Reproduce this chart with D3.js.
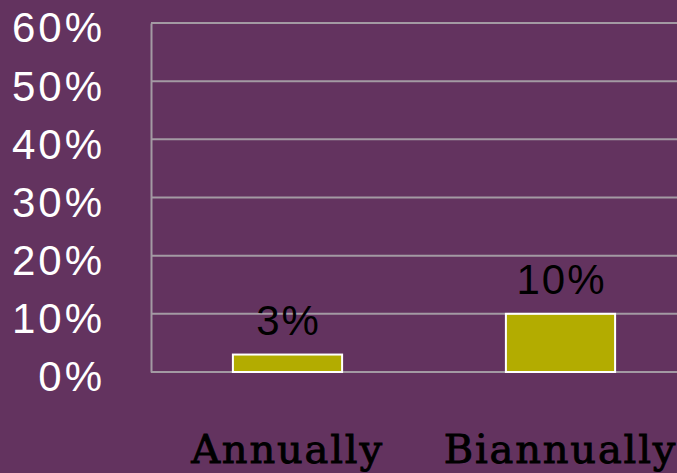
<!DOCTYPE html>
<html>
<head>
<meta charset="utf-8">
<style>
  html, body { margin: 0; padding: 0; background: #63335f; overflow: hidden; }
</style>
</head>
<body>
<svg id="chart" width="677" height="473"></svg>
<script src="https://d3js.org/d3.v7.min.js"></script>
<script>

var categories = ["Annually", "Biannually"]
var values = [3, 10]
var yTicks = [0, 10, 20, 30, 40, 50, 60]

var svg = d3.select("#chart"),
    plotLeft = 151, plotRight = 697, plotTop = 23, plotBottom = 372;

svg.append("rect")
    .attr("width", 677)
    .attr("height", 473)
    .attr("fill", "#63335f");

var x = d3.scaleBand()
    .domain(categories)
    .range([plotLeft, plotRight])
    .paddingInner(0.6)
    .paddingOuter(0.3);

var y = d3.scaleLinear()
    .domain([0, 60])
    .range([plotBottom, plotTop]);

// gridlines
svg.append("g")
    .selectAll("line")
    .data(yTicks)
    .enter().append("line")
    .attr("x1", plotLeft)
    .attr("x2", 677)
    .attr("y1", d => y(d))
    .attr("y2", d => y(d))
    .attr("stroke", "#a39aa3")
    .attr("stroke-width", 2);

// y axis
var yAxis = svg.append("g")
    .attr("transform", "translate(" + plotLeft + ",0)")
    .call(d3.axisLeft(y).tickValues(yTicks).tickSize(0).tickPadding(46).tickFormat(d => d + "%"));

yAxis.select(".domain").attr("stroke", "#a39aa3").attr("stroke-width", 2);
yAxis.selectAll("text")
    .attr("font-family", "'Liberation Sans', sans-serif")
    .attr("font-size", 42)
    .attr("letter-spacing", 3)
    .attr("dy", "0.45em")
    .attr("fill", "#fff");

// bars
svg.append("g")
    .selectAll("rect")
    .data(values)
    .enter().append("rect")
    .attr("x", (d, i) => x(categories[i]))
    .attr("y", d => y(d))
    .attr("width", x.bandwidth())
    .attr("height", d => y(0) - y(d))
    .attr("fill", "#b3ac00")
    .attr("stroke", "#fff")
    .attr("stroke-width", 2);

// value labels
svg.append("g")
    .selectAll("text")
    .data(values)
    .enter().append("text")
    .attr("x", (d, i) => x(categories[i]) + x.bandwidth() / 2 + 1)
    .attr("y", d => y(d) - 20)
    .attr("text-anchor", "middle")
    .attr("font-family", "'Liberation Sans', sans-serif")
    .attr("font-size", 42)
    .attr("letter-spacing", 2)
    .attr("fill", "#000")
    .text(d => d + "%");

// category labels
svg.append("g")
    .selectAll("text")
    .data(categories)
    .enter().append("text")
    .attr("x", d => x(d) + x.bandwidth() / 2)
    .attr("y", 463)
    .attr("text-anchor", "middle")
    .attr("font-family", "'DejaVu Serif', serif")
    .attr("font-size", 40)
    .attr("letter-spacing", 1.8)
    .attr("fill", "#000")
    .attr("stroke", "#000")
    .attr("stroke-width", 0.9)
    .text(d => d);

</script>
</body>
</html>
